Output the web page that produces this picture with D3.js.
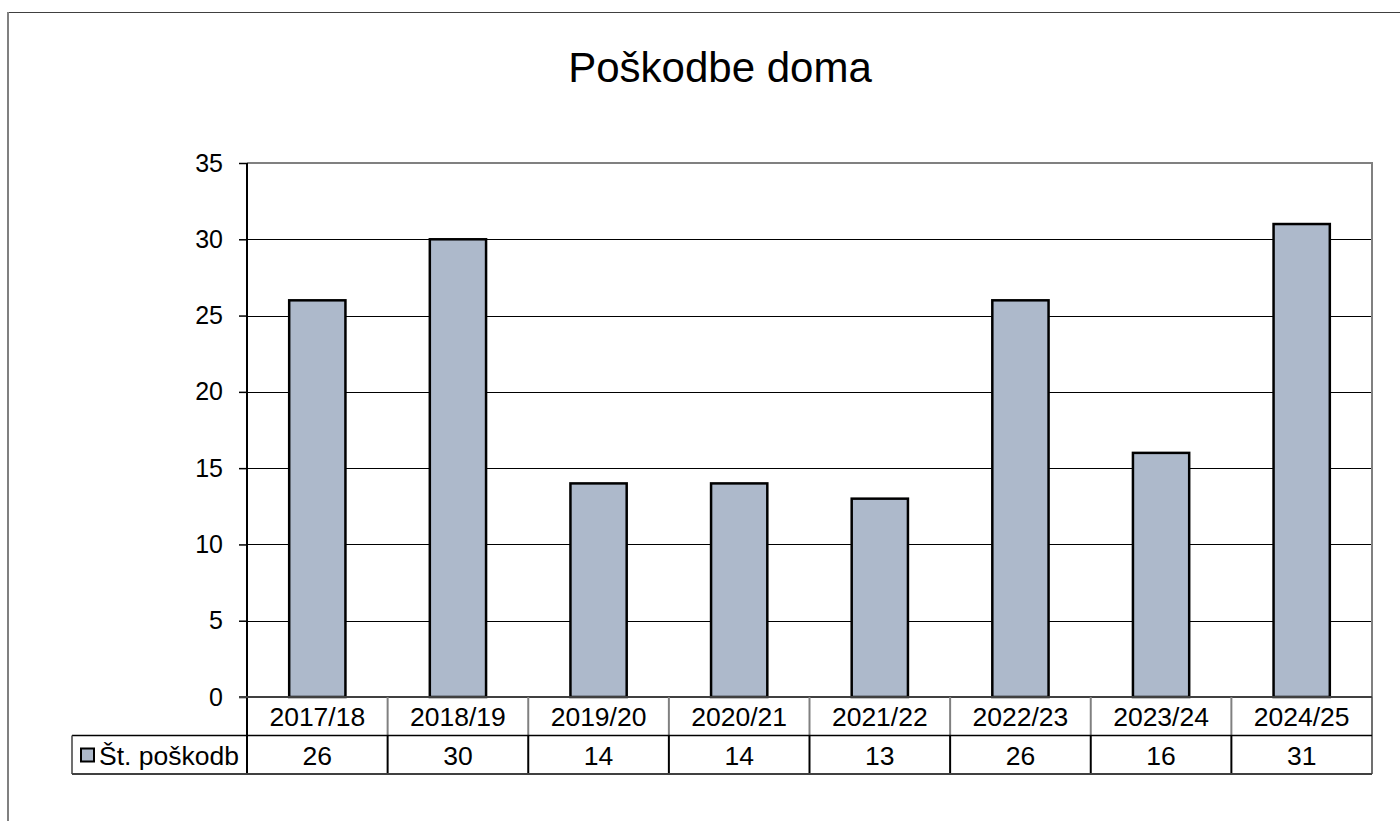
<!DOCTYPE html>
<html>
<head>
<meta charset="utf-8">
<script src="https://cdn.jsdelivr.net/npm/d3@7"></script>
<style>
  body { margin: 0; background: #fff; }
  svg { display: block; font-family: "Liberation Sans", Arial, sans-serif; }
</style>
</head>
<body>
<svg id="chart" width="1400" height="821"></svg>
<script>
var seasons = ["2017/18", "2018/19", "2019/20", "2020/21", "2021/22", "2022/23", "2023/24", "2024/25"];
var injuries = [26, 30, 14, 14, 13, 26, 16, 31];
var yTicks = [0, 5, 10, 15, 20, 25, 30, 35];
var seriesName = "Št. poškodb";
var chartTitle = "Poškodbe doma";

var svg = d3.select("#chart");

// plot area box (careful: "top" is window.top in a browser)
var plotLeft = 247, plotRight = 1372, plotTop = 163, plotBottom = 697;
var rowH = 38.5;
var legendLeft = 72;

var x = d3.scaleBand().domain(seasons).range([plotLeft, plotRight]).padding(0);
var y = d3.scaleLinear().domain([0, 35]).range([plotBottom, plotTop]);

// outer frame (goes past the window on right/bottom)
svg.append("line").attr("x1", 8).attr("x2", 1400).attr("y1", 12.5).attr("y2", 12.5)
    .style("stroke", "#404040").style("stroke-width", 1);
svg.append("line").attr("x1", 8).attr("x2", 8).attr("y1", 12).attr("y2", 821)
    .style("stroke", "#808080").style("stroke-width", 2);

// title
svg.append("text")
    .attr("x", 720).attr("y", 82)
    .attr("text-anchor", "middle")
    .style("font-size", "42px")
    .text(chartTitle);

// gridlines
svg.append("g").selectAll("line")
    .data(yTicks.filter(function (d) { return d > 0 && d < 35; }))
    .enter().append("line")
    .attr("x1", plotLeft).attr("x2", plotRight)
    .attr("y1", function (d) { return Math.round(y(d)) + 0.5; })
    .attr("y2", function (d) { return Math.round(y(d)) + 0.5; })
    .style("stroke", "#000").style("stroke-width", 1);

// top / right border of plot area
svg.append("path")
    .attr("d", "M" + plotLeft + "," + plotTop + "H" + plotRight + "V" + plotBottom)
    .style("fill", "none").style("stroke", "#808080").style("stroke-width", 2);

// bars
var bw = x.bandwidth() * 0.4;
svg.append("g").selectAll("rect")
    .data(injuries)
    .enter().append("rect")
    .attr("x", function (d, i) { return x(seasons[i]) + (x.bandwidth() - bw) / 2; })
    .attr("y", function (d) { return y(d); })
    .attr("width", bw)
    .attr("height", function (d) { return plotBottom - y(d); })
    .style("fill", "#adb9cb")
    .style("stroke", "#000")
    .style("stroke-width", 2.5);

// y axis
var yAxis = d3.axisLeft(y).tickValues(yTicks).tickSize(8).tickPadding(16);
var ga = svg.append("g").attr("transform", "translate(" + plotLeft + ",0)").call(yAxis);
ga.select(".domain").style("stroke", "#000").style("stroke-width", 2)
    .attr("d", "M0," + plotTop + "V" + (plotBottom + 2 * rowH));
ga.selectAll(".tick line").style("stroke", "#000").style("stroke-width", 1.5);
ga.selectAll(".tick text").style("font-size", "25px").style("font-family", "Liberation Sans, Arial, sans-serif")
    .style("fill", "#000");

// zero line
svg.append("line").attr("x1", plotLeft - 8).attr("x2", plotRight).attr("y1", plotBottom).attr("y2", plotBottom)
    .style("stroke", "#404040").style("stroke-width", 2);

// data table
var table = svg.append("g");
var row1 = plotBottom + rowH, row2 = plotBottom + 2 * rowH;

// category row separators (gray)
table.selectAll("line.sep1")
    .data(seasons.slice(1))
    .enter().append("line")
    .attr("x1", function (d) { return x(d); }).attr("x2", function (d) { return x(d); })
    .attr("y1", plotBottom).attr("y2", row1)
    .style("stroke", "#808080").style("stroke-width", 2);
// value row separators (black)
table.selectAll("line.sep2")
    .data(seasons.slice(1))
    .enter().append("line")
    .attr("x1", function (d) { return x(d); }).attr("x2", function (d) { return x(d); })
    .attr("y1", row1).attr("y2", row2)
    .style("stroke", "#000").style("stroke-width", 2);

table.append("line").attr("x1", plotRight).attr("x2", plotRight).attr("y1", plotBottom).attr("y2", row2)
    .style("stroke", "#404040").style("stroke-width", 1.5);
table.append("line").attr("x1", legendLeft).attr("x2", plotRight).attr("y1", row1).attr("y2", row1)
    .style("stroke", "#000").style("stroke-width", 1.5);
table.append("line").attr("x1", legendLeft).attr("x2", plotRight).attr("y1", row2).attr("y2", row2)
    .style("stroke", "#404040").style("stroke-width", 2);
table.append("line").attr("x1", legendLeft).attr("x2", legendLeft).attr("y1", row1).attr("y2", row2)
    .style("stroke", "#404040").style("stroke-width", 1.5);

table.selectAll("text.cat")
    .data(seasons)
    .enter().append("text")
    .attr("x", function (d) { return x(d) + x.bandwidth() / 2; })
    .attr("y", plotBottom + 29)
    .attr("text-anchor", "middle")
    .style("font-size", "26.5px")
    .text(function (d) { return d; });

table.selectAll("text.val")
    .data(injuries)
    .enter().append("text")
    .attr("x", function (d, i) { return x(seasons[i]) + x.bandwidth() / 2; })
    .attr("y", row1 + 29)
    .attr("text-anchor", "middle")
    .style("font-size", "26.5px")
    .text(function (d) { return d; });

// legend key
table.append("rect")
    .attr("x", 81).attr("y", row1 + 13).attr("width", 13).attr("height", 13)
    .style("fill", "#adb9cb").style("stroke", "#000").style("stroke-width", 2);
table.append("text")
    .attr("x", 99).attr("y", row1 + 29)
    .style("font-size", "26.5px")
    .text(seriesName);
</script>
</body>
</html>
